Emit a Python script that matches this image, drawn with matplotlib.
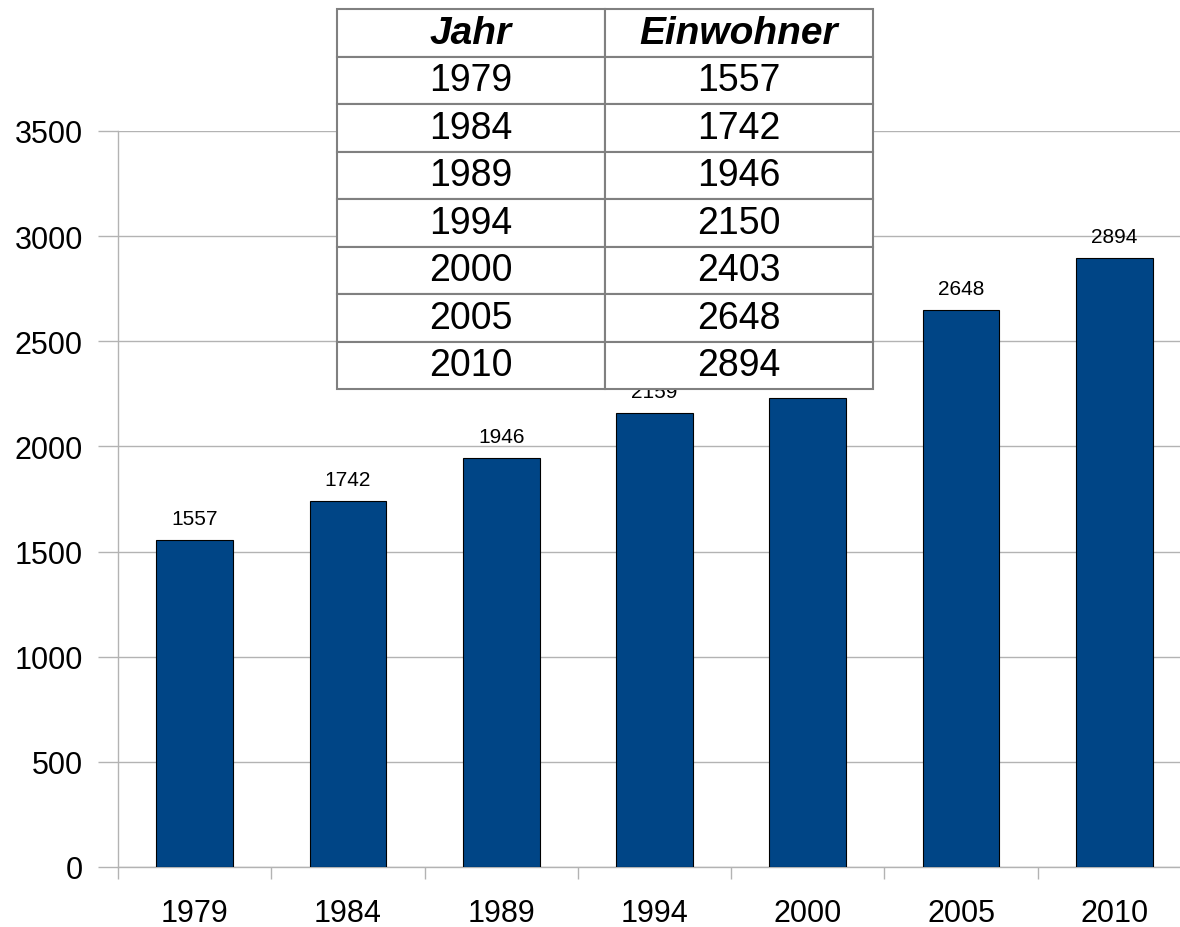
import numpy as np
import matplotlib.pyplot as plt

plt.rcParams['font.family'] = ['Liberation Sans', 'DejaVu Sans']

# chart data (bar for 2000 is drawn lower than the table value)
years = ['1979', '1984', '1989', '1994', '2000', '2005', '2010']
bar_values = [1557, 1742, 1946, 2159, 2230, 2648, 2894]

# table overlay
table_years = ['1979', '1984', '1989', '1994', '2000', '2005', '2010']
table_population = ['1557', '1742', '1946', '2150', '2403', '2648', '2894']
table_header = ['Jahr', 'Einwohner']

bar_color = '#004586'
grid_color = '#b3b3b3'

fig = plt.figure(figsize=(11.8, 9.28), dpi=100)
ax = fig.add_axes([118 / 1180, 60 / 928, 1073 / 1180, 736 / 928])

x = np.arange(len(years))
ax.bar(x, bar_values, width=0.5, color=bar_color, edgecolor='black',
       linewidth=0.8, zorder=3)

for xi, v in zip(x, bar_values):
    ax.annotate(str(v), (xi, v), xytext=(0, 15.5), textcoords='offset points',
                ha='center', va='center', fontsize=15, zorder=4)

ax.set_xlim(-0.5, len(years) - 0.5)
ax.set_ylim(0, 3500)
ax.set_yticks(np.arange(0, 3501, 500))
ax.yaxis.grid(True, color=grid_color, linewidth=1, zorder=0)
ax.set_axisbelow(True)

for side in ['top', 'right']:
    ax.spines[side].set_visible(False)
for side in ['left', 'bottom']:
    ax.spines[side].set_color(grid_color)
    ax.spines[side].set_linewidth(1)

ax.set_xticks(x)
ax.set_xticklabels(years)
ax.set_xticks(np.arange(-0.5, len(years), 1), minor=True)
ax.tick_params(axis='x', which='major', length=0, labelsize=22, pad=22)
ax.tick_params(axis='x', which='minor', length=8.6, color=grid_color, width=1)
ax.tick_params(axis='y', length=14.4, color=grid_color, width=1,
               labelsize=22, pad=11)

# table drawn on top of the chart
tax = fig.add_axes([337 / 1180, (928 - 390) / 928, (873 - 337) / 1180, 380 / 928])
tax.axis('off')
tax.set_zorder(5)
cells = [[y, p] for y, p in zip(table_years, table_population)]
tbl = tax.table(cellText=cells, colLabels=table_header, cellLoc='center',
                bbox=[0, 0, 1, 1])
tbl.auto_set_font_size(False)
tbl.set_fontsize(27)
for (r, c), cell in tbl.get_celld().items():
    cell.set_edgecolor('#808080')
    cell.set_linewidth(1.5)
    cell.set_facecolor('white')
    if r == 0:
        cell.get_text().set_fontweight('bold')
        cell.get_text().set_fontstyle('italic')
        cell.get_text().set_fontsize(28)

fig.savefig('out.png', dpi=100)
